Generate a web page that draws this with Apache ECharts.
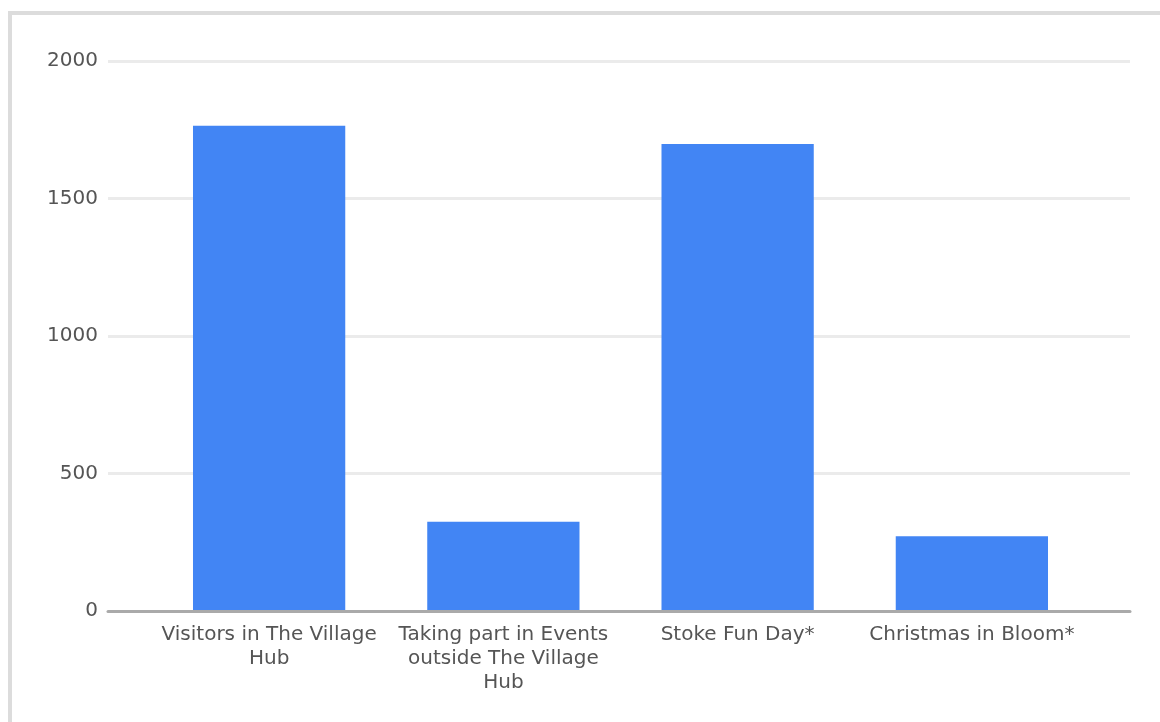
<!DOCTYPE html>
<html>
<head>
<meta charset="utf-8">
<script src="https://cdn.jsdelivr.net/npm/echarts@6/dist/echarts.min.js"></script>
<style>
    html, body { margin: 0; padding: 0; background: #fff; }
    #chart { width: 1160px; height: 722px; }
</style>
</head>
<body>
<div id="chart"></div>
<script>
// chart data
const categories = [
    'Visitors in The Village\nHub',
    'Taking part in Events\noutside The Village\nHub',
    'Stoke Fun Day*',
    'Christmas in Bloom*'
];
const values = [1765, 325, 1698, 272];
const yTicks = [0, 500, 1000, 1500, 2000];

const myChart = echarts.init(document.getElementById('chart'));

const labelFont = {
    fontFamily: '"DejaVu Sans", sans-serif',
    fontSize: 20,
    color: '#555'
};

const option = {
    animation: false,
    graphic: [
        {
            type: 'rect',
            shape: { x: 10, y: 13, width: 1200, height: 760 },
            style: { fill: 'none', stroke: '#dcdcdc', lineWidth: 4 },
            silent: true
        }
    ],
    grid: [
        // wide grid: gridlines, y labels and baseline
        { left: 108, right: 30, top: 61, bottom: 111 },
        // narrower grid: the bars and category labels
        { left: 152, right: 71, top: 61, bottom: 111 }
    ],
    xAxis: [
        {
            gridIndex: 0,
            type: 'category',
            data: [''],
            axisTick: { show: false },
            axisLabel: { show: false },
            axisLine: { show: true, lineStyle: { color: '#aaa', width: 3 } },
            z: 5
        },
        {
            gridIndex: 1,
            type: 'category',
            data: categories,
            axisTick: { show: false },
            axisLine: { show: false },
            axisLabel: {
                ...labelFont,
                interval: 0,
                margin: 12,
                lineHeight: 24,
                align: 'center'
            }
        }
    ],
    yAxis: [
        {
            gridIndex: 0,
            type: 'value',
            min: yTicks[0],
            max: yTicks[yTicks.length - 1],
            interval: yTicks[1] - yTicks[0],
            axisLine: { show: false },
            axisTick: { show: false },
            axisLabel: { ...labelFont, margin: 10, formatter: (v) => String(v) },
            splitLine: { show: true, lineStyle: { color: '#ebebeb', width: 3 } }
        },
        {
            gridIndex: 1,
            type: 'value',
            min: yTicks[0],
            max: yTicks[yTicks.length - 1],
            interval: yTicks[1] - yTicks[0],
            show: false,
            splitLine: { show: false }
        }
    ],
    series: [
        {
            type: 'bar',
            xAxisIndex: 1,
            yAxisIndex: 1,
            data: values,
            barWidth: '65%',
            itemStyle: { color: '#4285f4' },
            z: 3
        }
    ]
};

myChart.setOption(option);
</script>
</body>
</html>
